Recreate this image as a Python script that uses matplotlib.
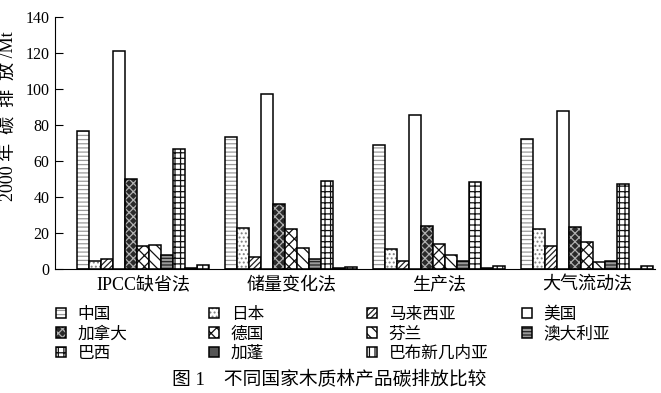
import numpy as np
import matplotlib
matplotlib.use('Agg')
import matplotlib.pyplot as plt
from matplotlib.patches import Patch

plt.rcParams['font.family'] = ['Liberation Serif', 'Noto Sans CJK SC']
plt.rcParams['hatch.linewidth'] = 0.9

# ---- data ----
methods = ['IPCC缺省法', '储量变化法', '生产法', '大气流动法']
countries = ['中国', '日本', '马来西亚', '美国', '加拿大', '德国', '芬兰',
             '澳大利亚', '巴西', '加蓬', '巴布新几内亚']
china     = [76.7, 73.5, 68.7, 72.0]
japan     = [4.6, 23.0, 10.9, 22.0]
malaysia  = [5.5, 6.9, 4.6, 12.6]
usa       = [121.0, 97.2, 85.4, 87.8]
canada    = [49.8, 36.3, 23.7, 23.1]
germany   = [13.0, 22.0, 14.0, 14.8]
finland   = [13.3, 11.9, 8.0, 3.7]
australia = [7.8, 5.4, 4.6, 4.6]
brazil    = [66.5, 49.0, 48.3, 47.4]
gabon     = [0.7, 0.5, 0.6, 0.0]
png       = [2.2, 1.3, 1.5, 1.5]
series = [china, japan, malaysia, usa, canada, germany, finland,
          australia, brazil, gabon, png]

# (facecolor, hatch, hatch colour)
styles = [
    ('white', '----', '#9a9a9a'),
    ('white', '....', '#808080'),
    ('white', '//////', '#222222'),
    ('white', '', 'black'),
    ('#2a2a2a', 'xxxx', '#b0b0b0'),
    ('white', 'xxx', '#111111'),
    ('white', '\\\\\\', '#111111'),
    ('#9a9a9a', '-----', '#222222'),
    ('white', '+++', '#111111'),
    ('#555555', '', '#555555'),
    ('white', '|||', '#111111'),
]

fig = plt.figure(figsize=(6.61, 3.93), dpi=100)
ax = fig.add_axes([55/661, 1-269/393, 600/661, 252/393])

x = np.arange(len(methods))
w = 0.0811
n = len(series)
handles = []
for i, (vals, (fc, h, hc)) in enumerate(zip(series, styles)):
    pos = x + (i - (n - 1) / 2) * w
    ax.bar(pos, vals, w, color=fc, hatch=h, edgecolor=hc, linewidth=0)
    ax.bar(pos, vals, w, fill=False, edgecolor='black', linewidth=1.1)
    handles.append((Patch(facecolor=fc, hatch=h, edgecolor=hc, linewidth=0),
                    Patch(fill=False, edgecolor='black', linewidth=1.1)))

ax.set_xlim(-0.595, 3.459)
ax.set_ylim(0, 140)
ax.set_yticks(np.arange(0, 141, 20))
ax.set_xticks(x)
ax.set_xticklabels(methods, fontsize=13)
ax.tick_params(axis='x', length=0, pad=5)
ax.tick_params(axis='y', direction='in', length=6, labelsize=11.5, pad=4)
for s in ['top', 'right']:
    ax.spines[s].set_visible(False)
ax.set_ylabel('2000 年  碳  排  放 /Mt', fontsize=13)
ax.yaxis.set_label_coords(-0.062, 0.605)

# legend, row-wise 4 columns
col_x = [56, 209, 367, 522]
for c in range(4):
    idx = list(range(c, n, 4))
    fig.legend([handles[k] for k in idx], [countries[k] for k in idx],
               loc='upper left', bbox_to_anchor=(col_x[c]/661, 1-307/393),
               frameon=False, fontsize=12, handlelength=0.6, handleheight=0.6,
               handletextpad=0.7, labelspacing=0.2, borderpad=0, borderaxespad=0)

fig.text(329/661, 1-380/393, '图 1    不同国家木质林产品碳排放比较',
         ha='center', va='center', fontsize=13.5)

fig.savefig('out.png', dpi=100)
